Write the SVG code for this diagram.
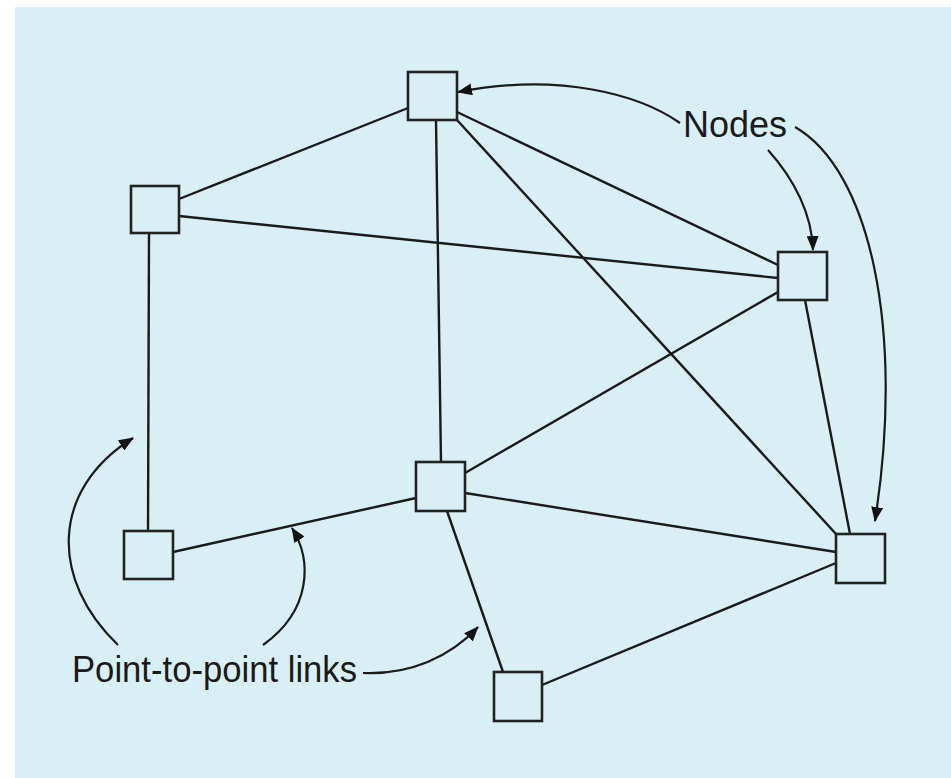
<svg xmlns="http://www.w3.org/2000/svg" width="951" height="778" viewBox="0 0 951 778">
<style>
.node rect{fill:#d9eff6;stroke:#222;stroke-width:2.6}
.edge{stroke:#1a1a1a;stroke-width:2.4;fill:none}
.call{stroke:#1a1a1a;stroke-width:2.2;fill:none;marker-end:url(#ah)}
.lbl{font-family:"Liberation Sans",Arial,sans-serif;font-size:36px;fill:#1a1a1a}
</style>
<defs>
<marker id="ah" markerUnits="userSpaceOnUse" markerWidth="16" markerHeight="12" refX="14" refY="6" orient="auto">
<path d="M0,0 L15,6 L0,12 z" fill="#111"/>
</marker>
</defs>
<rect x="0" y="0" width="951" height="778" fill="#ffffff"/>
<rect x="15" y="7" width="936" height="771" fill="#d9eff6"/>
<g id="connectors">
<line class="edge" x1="408" y1="108" x2="179" y2="199"/>
<line class="edge" x1="436" y1="120" x2="441" y2="462"/>
<line class="edge" x1="457" y1="112" x2="778" y2="265"/>
<line class="edge" x1="457" y1="120" x2="836" y2="534"/>
<line class="edge" x1="179" y1="216" x2="778" y2="278"/>
<line class="edge" x1="149" y1="233" x2="148" y2="531"/>
<line class="edge" x1="173" y1="552" x2="416" y2="498"/>
<line class="edge" x1="465" y1="473" x2="778" y2="292"/>
<line class="edge" x1="465" y1="493" x2="836" y2="552"/>
<line class="edge" x1="447" y1="511" x2="503" y2="672"/>
<line class="edge" x1="542" y1="685" x2="836" y2="563"/>
<line class="edge" x1="805" y1="300" x2="850" y2="534"/>
<path class="call" d="M680,123 C640,95 560,72 458,92"/>
<path class="call" d="M768,150 C795,180 812,215 813,250"/>
<path class="call" d="M795,127 C870,170 905,330 875,521"/>
<path class="call" d="M118,645 C50,580 50,490 133,438"/>
<path class="call" d="M263,645 C312,610 312,560 292,528"/>
<path class="call" d="M363,673 C410,675 450,657 478,627"/>
</g>
<g id="n_top" class="node"><rect x="408" y="72" width="49" height="48"/></g>
<g id="n_lefttop" class="node"><rect x="131" y="186" width="48" height="47"/></g>
<g id="n_rightmid" class="node"><rect x="778" y="252" width="49" height="48"/></g>
<g id="n_bottomleft" class="node"><rect x="124" y="531" width="49" height="48"/></g>
<g id="n_center" class="node"><rect x="416" y="462" width="49" height="49"/></g>
<g id="n_rightbottom" class="node"><rect x="836" y="534" width="49" height="49"/></g>
<g id="n_bottom" class="node"><rect x="494" y="672" width="48" height="49"/></g>
<g id="labels">
<text class="lbl" x="683" y="137">Nodes</text>
<text class="lbl" x="72" y="682" textLength="285" lengthAdjust="spacingAndGlyphs">Point-to-point links</text>
</g>
</svg>
